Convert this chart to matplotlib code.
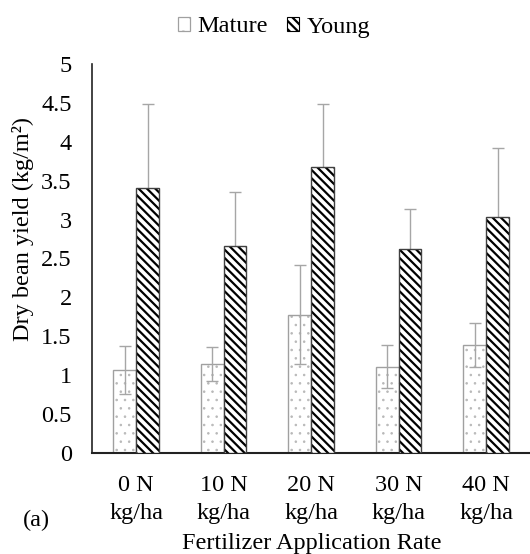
import matplotlib
matplotlib.use("Agg")
import matplotlib.pyplot as plt
import numpy as np
from matplotlib.patches import Patch

categories = ["0 N\nkg/ha", "10 N\nkg/ha", "20 N\nkg/ha", "30 N\nkg/ha", "40 N\nkg/ha"]
mature = [1.07, 1.14, 1.78, 1.11, 1.39]
mature_err = [0.31, 0.22, 0.64, 0.28, 0.28]
young = [3.41, 2.66, 3.67, 2.62, 3.03]
young_err = [1.08, 0.70, 0.82, 0.51, 0.89]
yticks = [0, 0.5, 1, 1.5, 2, 2.5, 3, 3.5, 4, 4.5, 5]
ytick_labels = ["0", "0.5", "1", "1.5", "2", "2.5", "3", "3.5", "4", "4.5", "5"]

plt.rcParams['font.family'] = ['Liberation Serif', 'DejaVu Serif']
FS = 17.5

fig = plt.figure(figsize=(5.30, 5.54), dpi=100)
ax = fig.add_axes([0.1745, 0.1823, 0.8255, 0.7022])

x = np.arange(len(categories))
w = 0.26
err_col = '#a6a6a6'
DOT_HATCH = '..'
STRIPE_HATCH = '\\\\\\\\'

# Mature bars (dotted)
plt.rcParams['hatch.linewidth'] = 0.6
ax.bar(x - w / 2, mature, w, color='white', edgecolor='#b8b8b8', hatch=DOT_HATCH,
       linewidth=0, zorder=2)
mature_leg = Patch(facecolor='white', edgecolor='#a0a0a0', hatch='.', linewidth=0.9)
ax.bar(x - w / 2, mature, w, color='none', edgecolor='#a0a0a0',
       linewidth=1.0, zorder=2.5)
ax.errorbar(x - w / 2, mature, yerr=mature_err, fmt='none', ecolor=err_col,
            elinewidth=1.0, capsize=4, capthick=1.0, zorder=3)

# Young bars (dense diagonal hatch)
plt.rcParams['hatch.linewidth'] = 1.6
ax.errorbar(x + w / 2, young, yerr=young_err, fmt='none', ecolor=err_col,
            elinewidth=1.0, capsize=4, capthick=1.0, zorder=2)
ax.bar(x + w / 2, young, w, color='white', edgecolor='black', hatch=STRIPE_HATCH,
       linewidth=0, zorder=4)
ax.bar(x + w / 2, young, w, color='none', edgecolor='#404040',
       linewidth=1.0, zorder=5)
young_leg = Patch(facecolor='white', edgecolor='black', hatch=STRIPE_HATCH, linewidth=0.8)

ax.set_xlim(-0.5, len(categories) - 0.5)
ax.set_ylim(0, 5)
ax.set_yticks(yticks)
ax.set_yticklabels(ytick_labels)
ax.set_xticks(x)
ax.set_xticklabels(categories, linespacing=1.45)
ax.tick_params(axis='y', length=0, pad=15, labelsize=FS)
ax.tick_params(axis='x', length=0, pad=16, labelsize=FS)

for s in ['top', 'right']:
    ax.spines[s].set_visible(False)
ax.spines['left'].set_linewidth(1.2)
ax.spines['bottom'].set_linewidth(1.5)
ax.spines['left'].set_color('#222222')
ax.spines['bottom'].set_color('#222222')

fig.text(23.5 / 530, 1 - 229 / 554, "Dry bean yield (kg/m²)", rotation=90,
         ha='center', va='center', fontsize=FS)
fig.text(312 / 530, 1 - 549 / 554, "Fertilizer Application Rate",
         ha='center', va='baseline', fontsize=FS)
fig.text(36 / 530, 1 - 520 / 554, "(a)", ha='center', va='center', fontsize=FS)

fig.legend([mature_leg, young_leg], ["Mature", "Young"], loc='center',
           bbox_to_anchor=(274 / 530, 1 - 27 / 554), ncol=2, frameon=False,
           fontsize=FS, handlelength=0.5, handleheight=0.5,
           handletextpad=0.3, columnspacing=0.8, borderpad=0.2)

fig.savefig("out.png", dpi=100)
